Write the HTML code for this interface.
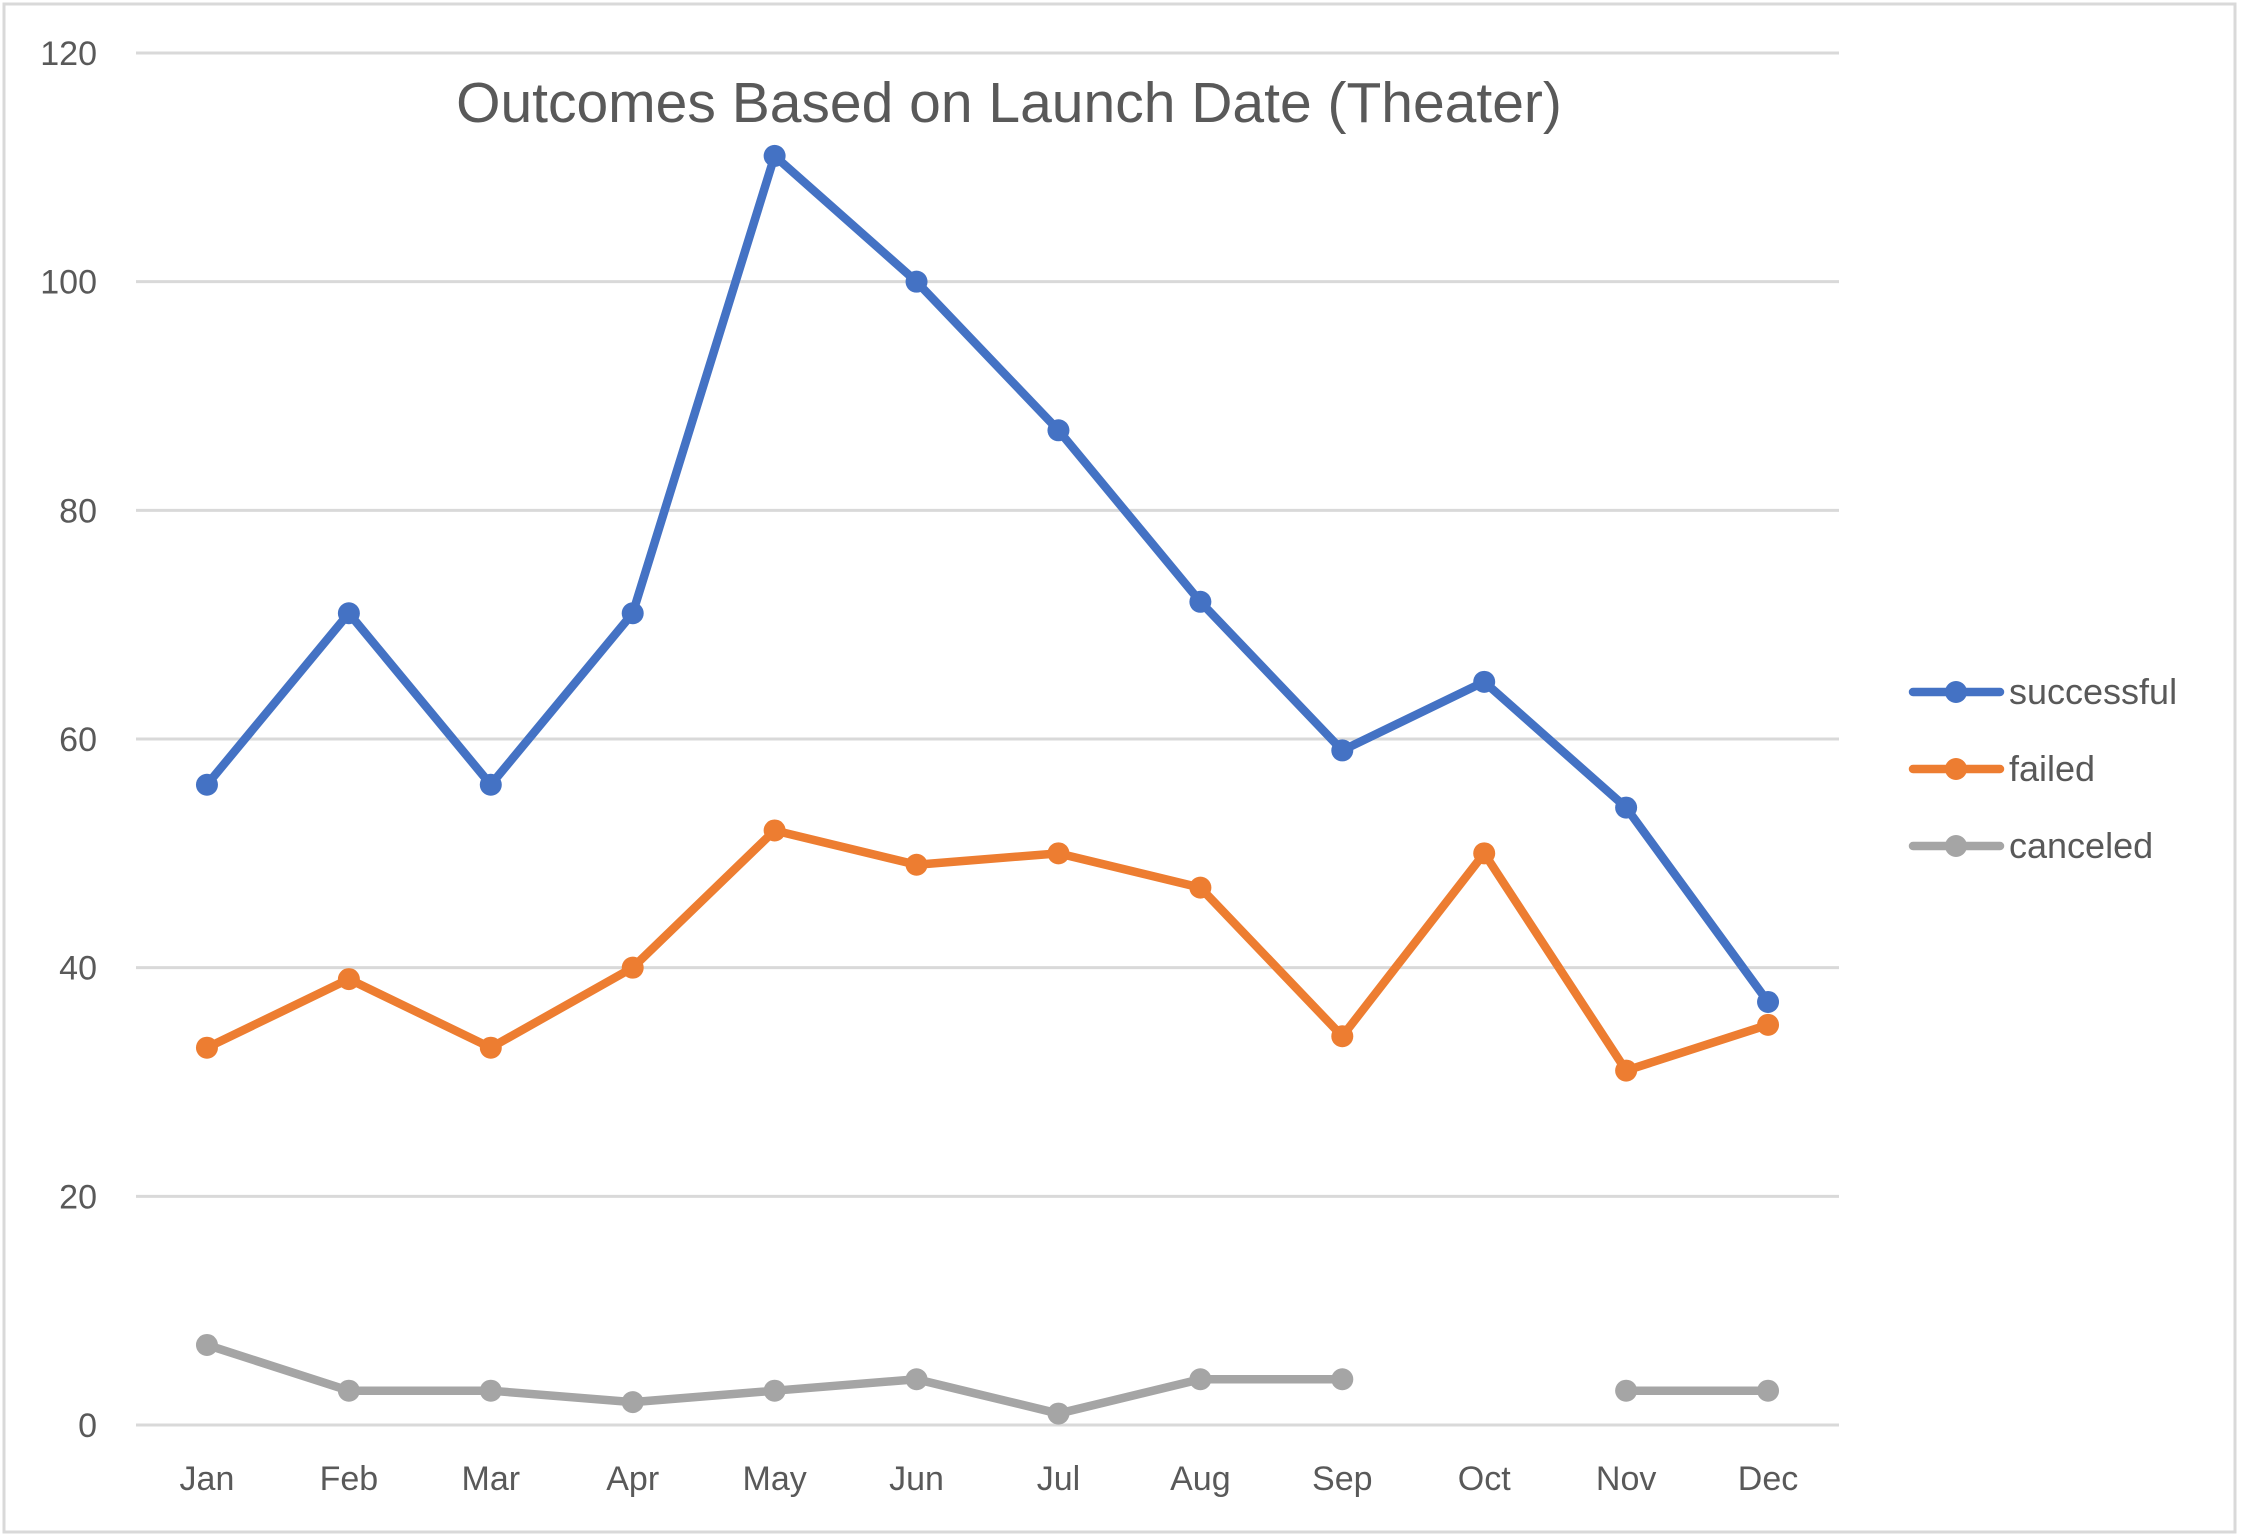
<!DOCTYPE html>
<html><head><meta charset="utf-8"><style>
html,body{margin:0;padding:0;background:#fff}
svg{display:block;font-family:"Liberation Sans",sans-serif}
</style></head><body>
<svg id="chart" width="2241" height="1540">
<rect x="4" y="4" width="2231" height="1528" fill="#fff" stroke="#d9d9d9" stroke-width="3"/>
<text x="1009" y="122" text-anchor="middle" font-size="57" fill="#595959">Outcomes Based on Launch Date (Theater)</text>
<g id="grid"></g><g id="series"></g><g id="legend"></g>
</svg>
<script>
const categories=["Jan","Feb","Mar","Apr","May","Jun","Jul","Aug","Sep","Oct","Nov","Dec"];
const successful=[56,71,56,71,111,100,87,72,59,65,54,37];
const failed=[33,39,33,40,52,49,50,47,34,50,31,35];
const canceled=[7,3,3,2,3,4,1,4,4,null,3,3];
const yTicks=[0,20,40,60,80,100,120];
const seriesNames=["successful","failed","canceled"];
const NS="http://www.w3.org/2000/svg";
const L=136,R=1839,T=53,B=1425,yMax=120;
const bw=(R-L)/categories.length;
function x(i){return L+bw*(i+0.5);}
function y(v){return B-(v/yMax)*(B-T);}
function mk(tag,attrs,parent){const e=document.createElementNS(NS,tag);for(const k in attrs)e.setAttribute(k,attrs[k]);parent.appendChild(e);return e;}
const grid=document.getElementById('grid');
yTicks.forEach(t=>{
  const l=mk('line',{x1:L,x2:R,y1:y(t),y2:y(t),stroke:'#d9d9d9','stroke-width':3},grid);
  
  
  const tx=mk('text',{x:97,y:y(t)+12,'text-anchor':'end','font-size':34,fill:'#595959'},grid);
  tx.textContent=t;
  
  
});
categories.forEach((c,i)=>{
  const tx=mk('text',{x:x(i),y:1490,'text-anchor':'middle','font-size':34,fill:'#595959'},grid);
  tx.textContent=c;
  
  
});
const colors=["#4472c4","#ed7d31","#a5a5a5"];
const data=[successful,failed,canceled];
const sg=document.getElementById('series');
data.forEach((vals,s)=>{
  const g=mk('g',{},sg);
  
  
  let d='',pen=false;
  vals.forEach((v,i)=>{
    if(v===null){pen=false;return;}
    d+=(pen?'L':'M')+x(i)+' '+y(v)+' ';pen=true;
  });
  const p=mk('path',{d:d,fill:'none',stroke:colors[s],'stroke-width':8.5,'stroke-linejoin':'round','stroke-linecap':'round'},g);
  
  
  vals.forEach((v,i)=>{
    if(v===null)return;
    const c=mk('circle',{cx:x(i),cy:y(v),r:11,fill:colors[s]},g);
    
    
  });
});
const lg=document.getElementById('legend');
seriesNames.forEach((n,s)=>{
  const yy=692+s*77;
  const g=mk('g',{},lg);
  
  
  mk('line',{x1:1913,x2:2000,y1:yy,y2:yy,stroke:colors[s],'stroke-width':8.5,'stroke-linecap':'round'},g);
  mk('circle',{cx:1956,cy:yy,r:11,fill:colors[s]},g);
  const t=mk('text',{x:2009,y:yy+12,'font-size':36,fill:'#595959'},g);
  t.textContent=n;
});
</script>
</body></html>
